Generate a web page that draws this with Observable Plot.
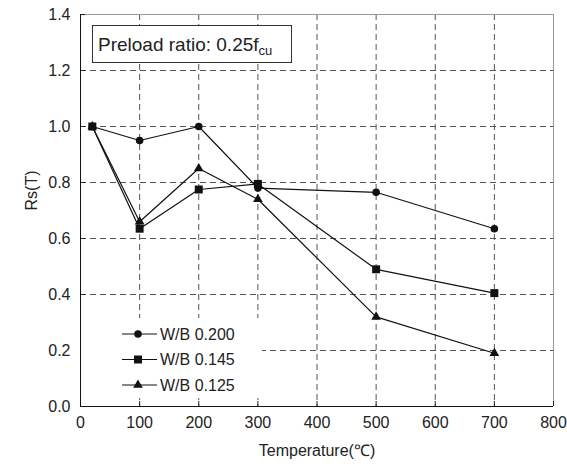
<!DOCTYPE html>
<html><head><meta charset="utf-8">
<script src="https://cdn.jsdelivr.net/npm/d3@7"></script>
<script src="https://cdn.jsdelivr.net/npm/@observablehq/plot@0.6"></script>
<style>
body{margin:0;background:#fff;}
#chart{width:567px;height:467px;}
</style>
</head><body>
<div id="chart"></div>
<script>
const temperatures = [20, 100, 200, 300, 500, 700];
const seriesNames = ["W/B 0.200", "W/B 0.145", "W/B 0.125"];
const wb200 = [1.0, 0.95, 1.0, 0.78, 0.765, 0.635];
const wb145 = [1.0, 0.635, 0.775, 0.795, 0.49, 0.405];
const wb125 = [1.0, 0.66, 0.85, 0.74, 0.32, 0.19];
const seriesValues = [wb200, wb145, wb125];
const symbolNames = ["circle", "square", "triangle"];
const symbolR = [3.8, 4.5, 3.6];
const xTicks = [0, 100, 200, 300, 400, 500, 600, 700, 800];
const yTicks = [0, 0.2, 0.4, 0.6, 0.8, 1.0, 1.2, 1.4];
const xGrid = [100, 200, 300, 400, 500, 600, 700];
const yGrid = [0.2, 0.4, 0.6, 0.8, 1.0, 1.2];
const xLabel = "Temperature(℃)";
const yLabel = "Rs(T)";
const noteText = "Preload ratio: 0.25f";
const noteSub = "cu";

const rows = [];
seriesNames.forEach((s, i) => temperatures.forEach((t, j) => rows.push({series: s, T: t, v: seriesValues[i][j]})));

const font = "'Liberation Sans', Arial, sans-serif";
const grid = {stroke: "#555", strokeOpacity: 1, strokeDasharray: "6,4", strokeWidth: 1};

const plot = Plot.plot({
  width: 567, height: 467,
  marginLeft: 80, marginRight: 14, marginTop: 14, marginBottom: 61,
  style: {fontFamily: font, fontSize: "16px", color: "#222", background: "#fff"},
  x: {domain: [0, 800]},
  y: {domain: [0, 1.4]},
  symbol: {domain: seriesNames, range: symbolNames},
  marks: [
    Plot.gridX(xGrid, grid),
    Plot.gridY(yGrid, grid),
    Plot.ruleY([1.4], {stroke: "#999"}),
    Plot.ruleX([800], {stroke: "#999"}),
    Plot.axisX({ticks: xTicks, tickSize: -5, tickPadding: 15, label: null, stroke: "#222"}),
    Plot.axisY({ticks: yTicks, tickSize: -5, tickPadding: 15, tickFormat: d3.format(".1f"), label: null, stroke: "#222"}),
    Plot.ruleX([0], {stroke: "#111"}),
    Plot.ruleY([0], {stroke: "#111"}),
    Plot.text([xLabel], {frameAnchor: "bottom", dy: 49, fontSize: 16, fill: "#222"}),
    Plot.text([yLabel], {frameAnchor: "left", dx: -49, rotate: -90, fontSize: 16, fill: "#222"}),
    Plot.line(rows, {x: "T", y: "v", z: "series", stroke: "#111", strokeWidth: 1.2}),
    ...seriesNames.map((s, i) => Plot.dot(rows.filter(d => d.series === s), {x: "T", y: "v", symbol: "series", fill: "#111", r: symbolR[i]}))
  ]
});
document.getElementById("chart").appendChild(plot);

const svg = d3.select(plot);
// legend
const lg = svg.append("g").attr("text-anchor", "start");
lg.append("rect").attr("x", 81).attr("y", 318).attr("width", 181).attr("height", 80).attr("fill", "#fff");
seriesNames.forEach((s, i) => {
  const y = 334 + i * 25.5;
  lg.append("line").attr("x1", 122).attr("x2", 157).attr("y1", y).attr("y2", y).attr("stroke", "#111").attr("stroke-width", 1.2);
  const sym = {circle: d3.symbolCircle, square: d3.symbolSquare, triangle: d3.symbolTriangle}[symbolNames[i]];
  lg.append("path").attr("d", d3.symbol(sym, symbolR[i] * symbolR[i] * Math.PI)()).attr("transform", `translate(138,${y})`).attr("fill", "#111");
  lg.append("text").attr("x", 160).attr("y", y + 5.5).attr("text-anchor", "start").attr("font-family", font).attr("font-size", 16).attr("fill", "#222").text(s);
});
// annotation box
const ng = svg.append("g").attr("text-anchor", "start");
ng.append("rect").attr("x", 92.5).attr("y", 25.5).attr("width", 199).attr("height", 37).attr("fill", "#fff").attr("stroke", "#333");
const t = ng.append("text").attr("x", 98).attr("y", 51).attr("text-anchor", "start").attr("font-family", font).attr("font-size", 19).attr("fill", "#222");
t.append("tspan").text(noteText);
t.append("tspan").attr("font-size", 13).attr("dy", 4).text(noteSub);
</script>
</body></html>
